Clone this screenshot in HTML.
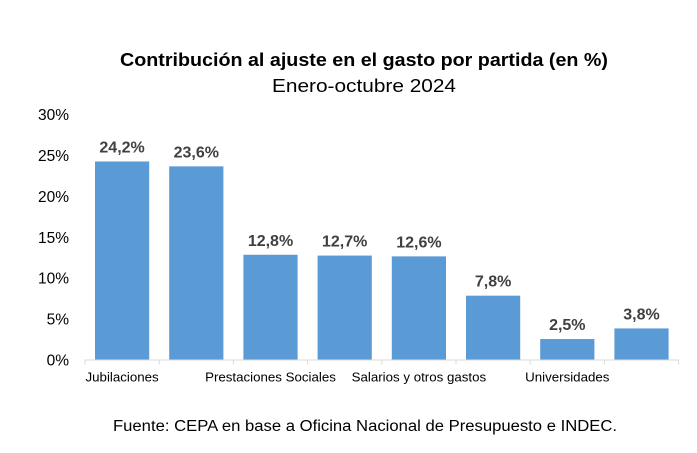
<!DOCTYPE html>
<html><head><meta charset="utf-8"><style>
body{margin:0;background:#fff;font-family:"Liberation Sans",sans-serif;}
svg{display:block}
</style></head><body>
<svg id="c" width="697" height="453">
<text x="364" y="66" text-anchor="middle" font-size="18.5" font-weight="bold" fill="#000" textLength="488" lengthAdjust="spacingAndGlyphs">Contribución al ajuste en el gasto por partida (en %)</text>
<text x="364" y="92" text-anchor="middle" font-size="18.5" fill="#000" textLength="184" lengthAdjust="spacingAndGlyphs">Enero-octubre 2024</text>
<text x="365" y="431" text-anchor="middle" font-size="15.5" fill="#000" textLength="504" lengthAdjust="spacingAndGlyphs">Fuente: CEPA en base a Oficina Nacional de Presupuesto e INDEC.</text>
<g id="plot"></g>
</svg>
<script>
const categories=["Jubilaciones","","Prestaciones Sociales","","Salarios y otros gastos","","Universidades",""];
const values=[24.2,23.6,12.8,12.7,12.6,7.8,2.5,3.8];
const valueLabels=["24,2%","23,6%","12,8%","12,7%","12,6%","7,8%","2,5%","3,8%"];
const yTicks=[0,5,10,15,20,25,30];
const yTickLabels=["0%","5%","10%","15%","20%","25%","30%"];
const NS="http://www.w3.org/2000/svg";
const g=document.getElementById('plot');
const x0=85,step=74.2,y0=359.5,yTop=114,yMax=30;
const y=v=>y0-(v/yMax)*(y0-yTop);
const x=i=>x0+i*step;
function mk(t,a){const e=document.createElementNS(NS,t);for(const k in a)e.setAttribute(k,a[k]);g.appendChild(e);return e;}
yTicks.forEach((t,i)=>{
  const e=mk('text',{x:69,y:y(t)+6,'text-anchor':'end','font-size':15.5,fill:'#000'});
  e.textContent=yTickLabels[i];
  
  
});
const ax=mk('line',{x1:x0,x2:x(categories.length),y1:y0+0.5,y2:y0+0.5,stroke:'#d9d9d9','stroke-width':1});


for(let i=0;i<=categories.length;i++){
  const tk=mk('line',{x1:x(i),x2:x(i),y1:y0,y2:y0+5,stroke:'#d9d9d9'});
  
  
}
values.forEach((v,i)=>{
  const bx=x(i)+10,bw=step-20;
  const r=mk('rect',{x:bx,y:y(v),width:bw,height:y0-y(v),fill:'#5b9bd5'});
  
  
  const t=mk('text',{x:bx+bw/2,y:y(v)-9,'text-anchor':'middle','font-size':16,'font-weight':'bold',fill:'#404040'});
  t.textContent=valueLabels[i];
  
  
  if(categories[i]){
    const c=mk('text',{x:x(i)+step/2,y:y0+22,'text-anchor':'middle','font-size':13.3,fill:'#000'});
    c.textContent=categories[i];
    
    
  }
});
</script>
</body></html>
